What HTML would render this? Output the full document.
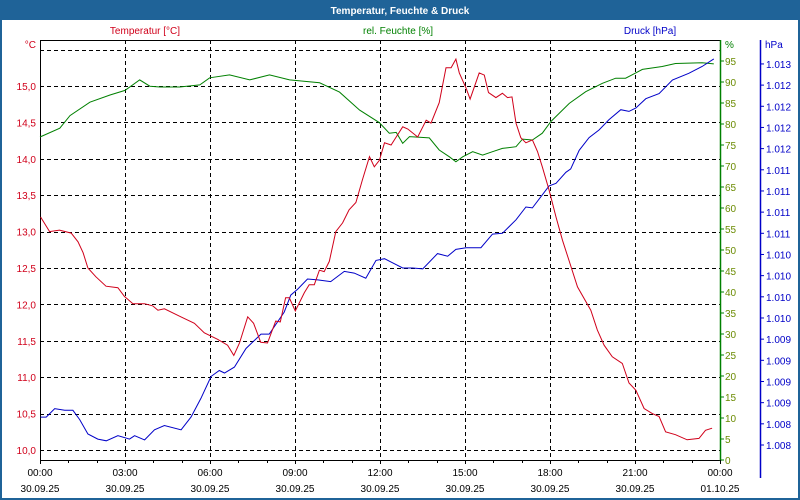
<!DOCTYPE html>
<html><head><meta charset="utf-8">
<style>
html,body{margin:0;padding:0;background:#fff;}
#wrap{position:relative;width:800px;height:500px;overflow:hidden;font-family:"Liberation Sans",sans-serif;}
svg text{font-family:"Liberation Sans",sans-serif;font-size:10px;}
</style></head>
<body>
<div id="wrap">
<svg id="chart" width="800" height="500" xmlns="http://www.w3.org/2000/svg"></svg>
</div>
<script>
const timeLabels=["00:00","03:00","06:00","09:00","12:00","15:00","18:00","21:00","00:00"];
const dateLabels=["30.09.25","30.09.25","30.09.25","30.09.25","30.09.25","30.09.25","30.09.25","30.09.25","01.10.25"];
const tempTicks=[10.0,10.5,11.0,11.5,12.0,12.5,13.0,13.5,14.0,14.5,15.0];
const humTicks=[0,5,10,15,20,25,30,35,40,45,50,55,60,65,70,75,80,85,90,95];
const presTickStart=1008.1, presTickStep=0.25, presTickCount=19;

const tempHours=[0.02,0.34,0.69,1.10,1.34,1.52,1.69,1.97,2.33,2.75,2.98,3.28,3.69,3.98,4.16,4.39,4.97,5.45,5.80,6.27,6.62,6.84,7.04,7.33,7.54,7.79,8.03,8.32,8.48,8.67,8.80,9.01,9.33,9.50,9.68,9.86,10.03,10.21,10.44,10.68,10.91,11.15,11.38,11.63,11.80,11.98,12.16,12.39,12.57,12.80,12.98,13.33,13.63,13.80,14.09,14.33,14.51,14.68,14.80,15.04,15.18,15.50,15.68,15.83,16.09,16.32,16.50,16.66,16.80,16.97,17.15,17.38,17.56,17.73,17.97,18.21,18.44,18.68,18.97,19.44,19.67,19.91,20.20,20.55,20.79,21.03,21.32,21.61,21.85,22.08,22.43,22.84,23.26,23.49,23.72];
const tempValues=[13.20,13.00,13.02,12.98,12.86,12.71,12.50,12.38,12.25,12.23,12.11,12.01,12.01,11.98,11.92,11.94,11.83,11.74,11.61,11.52,11.44,11.30,11.47,11.83,11.74,11.48,11.47,11.77,11.76,12.09,12.09,11.91,12.16,12.27,12.27,12.47,12.45,12.59,13.00,13.12,13.30,13.40,13.71,14.03,13.89,13.98,14.22,14.19,14.30,14.44,14.41,14.30,14.53,14.49,14.77,15.25,15.25,15.37,15.18,14.97,14.82,15.18,15.15,14.91,14.84,14.90,14.84,14.85,14.49,14.29,14.22,14.26,14.10,13.89,13.57,13.20,12.88,12.59,12.24,11.92,11.65,11.44,11.28,11.19,10.92,10.82,10.57,10.50,10.46,10.25,10.21,10.14,10.16,10.27,10.30];

const humHours=[0,0.70,1.06,1.76,2.47,3.0,3.52,3.88,4.23,4.93,5.64,5.99,6.69,7.40,8.10,8.81,9.87,10.57,11.28,11.98,12.33,12.57,12.80,13.04,13.74,14.09,14.45,14.68,14.92,15.27,15.62,15.97,16.32,16.80,17.03,17.38,17.73,18.03,18.68,19.26,19.85,20.32,20.67,21.26,21.96,22.43,23.37,23.78];
const humValues=[76.9,79,82,85.2,86.9,88,90.5,89,88.8,88.8,89.3,91,91.7,90.5,91.7,90.5,89.8,87.6,83.3,80.3,77.8,78,75.4,77,76.7,73.8,72.2,71,72.2,73.4,72.6,73.4,74.2,74.6,76.4,76.2,77.8,80.6,84.9,87.7,89.7,90.9,90.9,93,93.7,94.4,94.6,94.3];

const presHours=[0.02,0.22,0.52,0.87,1.16,1.40,1.69,2.04,2.34,2.75,3.16,3.34,3.69,4.04,4.39,4.98,5.33,5.68,6.04,6.33,6.51,6.86,7.27,7.80,8.09,8.62,8.85,9.09,9.44,9.80,10.26,10.74,11.09,11.50,11.86,12.16,12.39,12.80,13.15,13.51,14.03,14.39,14.68,15.04,15.56,15.97,16.32,16.80,17.15,17.38,17.97,18.21,18.56,18.73,19.03,19.38,19.73,20.08,20.50,20.79,21.03,21.38,21.85,22.32,22.90,23.37,23.78];
const presValues=[1008.43,1008.43,1008.53,1008.51,1008.51,1008.40,1008.23,1008.17,1008.15,1008.21,1008.17,1008.21,1008.16,1008.28,1008.33,1008.28,1008.43,1008.65,1008.91,1008.98,1008.95,1009.02,1009.24,1009.41,1009.41,1009.67,1009.87,1009.94,1010.06,1010.05,1010.03,1010.15,1010.13,1010.07,1010.28,1010.30,1010.26,1010.19,1010.19,1010.18,1010.36,1010.33,1010.41,1010.43,1010.43,1010.59,1010.60,1010.76,1010.91,1010.90,1011.16,1011.19,1011.32,1011.36,1011.58,1011.73,1011.82,1011.94,1012.06,1012.04,1012.08,1012.19,1012.25,1012.41,1012.49,1012.57,1012.66];

const NS="http://www.w3.org/2000/svg";
const svg=document.getElementById('chart');
const L=40,R=720,T=40,B=460;
const RED="#d0001a",GREEN="#008000",BLUE="#0000c8";
function xS(h){return L+h*(R-L)/24;}
function yT(t){return 450-(t-10)*72.8;}
function yH(h){return 460-h*4.2;}
function yP(p){return 445-(p-1008.1)/0.25*21.17;}
function mk(tag,attrs,parent){const e=document.createElementNS(NS,tag);for(const k in attrs)e.setAttribute(k,attrs[k]);(parent||svg).appendChild(e);return e;}
function txt(s,x,y,fill,anchor,parent){const e=mk('text',{x:x,y:y,fill:fill,'text-anchor':anchor||'start'},parent);e.textContent=s;return e;}

// frame / title
let g=mk('rect',{x:1,y:1,width:798,height:498,fill:'#fff',stroke:'#1f6398','stroke-width':2});


g=mk('rect',{x:0,y:0,width:800,height:20,fill:'#1f6398'});


g=txt('Temperatur, Feuchte & Druck',400,14,'#fff','middle');
g.setAttribute('font-weight','bold');g.setAttribute('font-size','11');



g=txt('Temperatur [°C]',145,34,RED,'middle');


g=txt('rel. Feuchte [%]',398,34,GREEN,'middle');


g=txt('Druck [hPa]',650,34,BLUE,'middle');



// grid
const grid=mk('g',{stroke:'#000','stroke-width':1,'stroke-dasharray':'4,3'});


for(let t=10;t<=15.51;t+=0.5){const y=Math.round(yT(t))+0.5;mk('line',{x1:L,x2:R,y1:y,y2:y},grid);}
for(let h=3;h<24;h+=3){const x=Math.round(xS(h))+0.5;mk('line',{x1:x,x2:x,y1:T,y2:B},grid);}

// axes
g=mk('rect',{x:L+0.5,y:T+0.5,width:R-L,height:B-T,fill:'none',stroke:'#000'});


g=mk('line',{x1:R+0.5,x2:R+0.5,y1:T,y2:B+1,stroke:GREEN,'stroke-width':1.5});


g=mk('line',{x1:760.5,x2:760.5,y1:T,y2:B+18,stroke:BLUE,'stroke-width':1.5});



// left ticks
g=txt('°C',36,48,RED,'end');


tempTicks.forEach(t=>{const e=txt(t.toFixed(1).replace('.',','),36,yT(t)+4,RED,'end');

});
// humidity ticks
g=txt('%',725,48,GREEN,'start');


humTicks.forEach(h=>{const y=yH(h);mk('line',{x1:R,x2:R+4,y1:y,y2:y,stroke:GREEN});
const e=txt(String(h),725,y+4,'#6a8a00','start');

});
// pressure ticks
g=txt('hPa',765,48,BLUE,'start');


for(let i=0;i<presTickCount;i++){const p=presTickStart+i*presTickStep;const y=yP(p);
mk('line',{x1:760,x2:764,y1:y,y2:y,stroke:BLUE});
const s=(Math.round(p)/1000).toFixed(3);
const e=txt(s,766,y+4,BLUE,'start');

}
// x ticks
for(let h=0;h<=24;h++){const x=Math.round(xS(h))+0.5;mk('line',{x1:x,x2:x,y1:B,y2:B+(h%3==0?4:3),stroke:'#000'});}
timeLabels.forEach((s,i)=>{const x=xS(i*3);
let e=txt(s,x,476,'#000','middle');


e=txt(dateLabels[i],x,492,'#000','middle');

});

// series
function line(hours,vals,yf,color,name){
const d=hours.map((h,i)=>(i?'L':'M')+xS(h).toFixed(1)+','+yf(vals[i]).toFixed(1)).join(' ');
const p=mk('path',{d:d,fill:'none',stroke:color,'stroke-width':1});

}
line(humHours,humValues,yH,GREEN,'humidity-line');
line(presHours,presValues,yP,BLUE,'pressure-line');
line(tempHours,tempValues,yT,RED,'temperature-line');
</script>
</body></html>
